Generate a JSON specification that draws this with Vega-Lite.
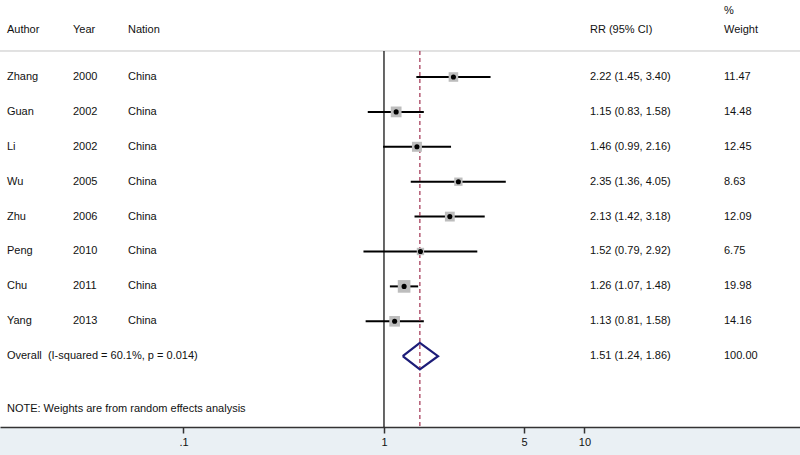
{
  "$schema": "https://vega.github.io/schema/vega-lite/v6.json",
  "width": 800,
  "height": 427,
  "autosize": "none",
  "padding": {"left": 0, "top": 0, "right": 0, "bottom": 28},
  "background": "#eaf0f4",
  "config": {
    "view": {"fill": "white", "stroke": null},
    "text": {"font": "Liberation Sans", "fontSize": 11, "color": "#111111", "align": "left", "baseline": "middle"},
    "axisX": {"grid": false, "domainColor": "#333333", "domainWidth": 1.5, "tickColor": "#333333", "tickSize": 6, "tickWidth": 1.5,
      "labelFont": "Liberation Sans", "labelFontSize": 11, "labelColor": "#111111", "labelPadding": 3, "labelFlush": false, "labelOverlap": false}
  },
  "datasets": {
    "studies": [
      {"author": "Zhang", "year": "2000", "nation": "China", "row": 0, "rr": 2.22, "lo": 1.45, "hi": 3.40, "weight": 11.47, "ci": "2.22 (1.45, 3.40)", "w": "11.47"},
      {"author": "Guan", "year": "2002", "nation": "China", "row": 1, "rr": 1.15, "lo": 0.83, "hi": 1.58, "weight": 14.48, "ci": "1.15 (0.83, 1.58)", "w": "14.48"},
      {"author": "Li", "year": "2002", "nation": "China", "row": 2, "rr": 1.46, "lo": 0.99, "hi": 2.16, "weight": 12.45, "ci": "1.46 (0.99, 2.16)", "w": "12.45"},
      {"author": "Wu", "year": "2005", "nation": "China", "row": 3, "rr": 2.35, "lo": 1.36, "hi": 4.05, "weight": 8.63, "ci": "2.35 (1.36, 4.05)", "w": "8.63"},
      {"author": "Zhu", "year": "2006", "nation": "China", "row": 4, "rr": 2.13, "lo": 1.42, "hi": 3.18, "weight": 12.09, "ci": "2.13 (1.42, 3.18)", "w": "12.09"},
      {"author": "Peng", "year": "2010", "nation": "China", "row": 5, "rr": 1.52, "lo": 0.79, "hi": 2.92, "weight": 6.75, "ci": "1.52 (0.79, 2.92)", "w": "6.75"},
      {"author": "Chu", "year": "2011", "nation": "China", "row": 6, "rr": 1.26, "lo": 1.07, "hi": 1.48, "weight": 19.98, "ci": "1.26 (1.07, 1.48)", "w": "19.98"},
      {"author": "Yang", "year": "2013", "nation": "China", "row": 7, "rr": 1.13, "lo": 0.81, "hi": 1.58, "weight": 14.16, "ci": "1.13 (0.81, 1.58)", "w": "14.16"}
    ],
    "diamond": [
      {"order": 0, "x": 1.24, "y": 8},
      {"order": 1, "x": 1.51, "y": 7.62},
      {"order": 2, "x": 1.86, "y": 8},
      {"order": 3, "x": 1.51, "y": 8.38},
      {"order": 4, "x": 1.24, "y": 8}
    ],
    "overall": [
      {"row": 8, "label": "Overall\u00a0 (I-squared = 60.1%, p = 0.014)", "ci": "1.51 (1.24, 1.86)", "w": "100.00"}
    ]
  },
  "layer": [
    {
      "data": {"values": [{}]},
      "mark": {"type": "rule", "color": "#c4c4c4", "strokeWidth": 1},
      "encoding": {
        "y": {"datum": -0.745, "type": "quantitative", "scale": {"domain": [-2.2063, 10.029], "reverse": true, "nice": false, "zero": false}, "axis": null}
      }
    },
    {
      "data": {"name": "studies"},
      "mark": {"type": "rule", "color": "#000000", "strokeWidth": 2},
      "encoding": {
        "x": {"field": "lo", "type": "quantitative", "scale": {"type": "log", "domain": [0.01216, 118.8], "nice": false},
          "axis": {"values": [0.1, 1, 5, 10], "labelExpr": "datum.value < 1 ? '.1' : format(datum.value, 'd')", "title": null}},
        "x2": {"field": "hi"},
        "y": {"field": "row", "type": "quantitative", "axis": null}
      }
    },
    {
      "data": {"values": [{}]},
      "mark": {"type": "rule", "color": "#000000", "strokeWidth": 1.2},
      "encoding": {
        "x": {"datum": 1, "type": "quantitative", "axis": {"values": [0.1, 1, 5, 10], "labelExpr": "datum.value < 1 ? '.1' : format(datum.value, 'd')", "title": null}},
        "y": {"datum": -0.745, "type": "quantitative", "axis": null},
        "y2": {"datum": 10.029}
      }
    },
    {
      "data": {"values": [{}]},
      "mark": {"type": "rule", "color": "#a03050", "strokeWidth": 1.2, "strokeDash": [4, 3]},
      "encoding": {
        "x": {"datum": 1.51, "type": "quantitative", "axis": {"values": [0.1, 1, 5, 10], "labelExpr": "datum.value < 1 ? '.1' : format(datum.value, 'd')", "title": null}},
        "y": {"datum": -0.745, "type": "quantitative", "axis": null},
        "y2": {"datum": 10.029}
      }
    },
    {
      "data": {"name": "studies"},
      "mark": {"type": "square", "color": "#bdbdbd", "opacity": 1, "filled": true},
      "encoding": {
        "x": {"field": "rr", "type": "quantitative", "axis": {"values": [0.1, 1, 5, 10], "labelExpr": "datum.value < 1 ? '.1' : format(datum.value, 'd')", "title": null}},
        "y": {"field": "row", "type": "quantitative", "axis": null},
        "size": {"field": "weight", "type": "quantitative", "scale": {"domain": [0, 20], "range": [0, 160]}, "legend": null}
      }
    },
    {
      "data": {"name": "studies"},
      "mark": {"type": "circle", "color": "#000000", "size": 26, "opacity": 1},
      "encoding": {
        "x": {"field": "rr", "type": "quantitative", "axis": {"values": [0.1, 1, 5, 10], "labelExpr": "datum.value < 1 ? '.1' : format(datum.value, 'd')", "title": null}},
        "y": {"field": "row", "type": "quantitative", "axis": null}
      }
    },
    {
      "data": {"name": "diamond"},
      "mark": {"type": "line", "color": "#1c1c78", "strokeWidth": 2.2},
      "encoding": {
        "x": {"field": "x", "type": "quantitative", "axis": {"values": [0.1, 1, 5, 10], "labelExpr": "datum.value < 1 ? '.1' : format(datum.value, 'd')", "title": null}},
        "y": {"field": "y", "type": "quantitative", "axis": null},
        "order": {"field": "order"}
      }
    },
    {
      "data": {"name": "studies"},
      "mark": {"type": "text"},
      "encoding": {"x": {"datum": 0.01317, "type": "quantitative", "axis": {"values": [0.1, 1, 5, 10], "labelExpr": "datum.value < 1 ? '.1' : format(datum.value, 'd')", "title": null}}, "y": {"field": "row", "type": "quantitative", "axis": null}, "text": {"field": "author"}}
    },
    {
      "data": {"name": "studies"},
      "mark": {"type": "text"},
      "encoding": {"x": {"datum": 0.02811, "type": "quantitative", "axis": {"values": [0.1, 1, 5, 10], "labelExpr": "datum.value < 1 ? '.1' : format(datum.value, 'd')", "title": null}}, "y": {"field": "row", "type": "quantitative", "axis": null}, "text": {"field": "year"}}
    },
    {
      "data": {"name": "studies"},
      "mark": {"type": "text"},
      "encoding": {"x": {"datum": 0.05286, "type": "quantitative", "axis": {"values": [0.1, 1, 5, 10], "labelExpr": "datum.value < 1 ? '.1' : format(datum.value, 'd')", "title": null}}, "y": {"field": "row", "type": "quantitative", "axis": null}, "text": {"field": "nation"}}
    },
    {
      "data": {"name": "studies"},
      "mark": {"type": "text"},
      "encoding": {"x": {"datum": 10.652, "type": "quantitative", "axis": {"values": [0.1, 1, 5, 10], "labelExpr": "datum.value < 1 ? '.1' : format(datum.value, 'd')", "title": null}}, "y": {"field": "row", "type": "quantitative", "axis": null}, "text": {"field": "ci"}}
    },
    {
      "data": {"name": "studies"},
      "mark": {"type": "text"},
      "encoding": {"x": {"datum": 49.63, "type": "quantitative", "axis": {"values": [0.1, 1, 5, 10], "labelExpr": "datum.value < 1 ? '.1' : format(datum.value, 'd')", "title": null}}, "y": {"field": "row", "type": "quantitative", "axis": null}, "text": {"field": "w"}}
    },
    {
      "data": {"name": "overall"},
      "mark": {"type": "text"},
      "encoding": {"x": {"datum": 0.01317, "type": "quantitative", "axis": {"values": [0.1, 1, 5, 10], "labelExpr": "datum.value < 1 ? '.1' : format(datum.value, 'd')", "title": null}}, "y": {"field": "row", "type": "quantitative", "axis": null}, "text": {"field": "label"}}
    },
    {
      "data": {"name": "overall"},
      "mark": {"type": "text"},
      "encoding": {"x": {"datum": 10.652, "type": "quantitative", "axis": {"values": [0.1, 1, 5, 10], "labelExpr": "datum.value < 1 ? '.1' : format(datum.value, 'd')", "title": null}}, "y": {"field": "row", "type": "quantitative", "axis": null}, "text": {"field": "ci"}}
    },
    {
      "data": {"name": "overall"},
      "mark": {"type": "text"},
      "encoding": {"x": {"datum": 49.63, "type": "quantitative", "axis": {"values": [0.1, 1, 5, 10], "labelExpr": "datum.value < 1 ? '.1' : format(datum.value, 'd')", "title": null}}, "y": {"field": "row", "type": "quantitative", "axis": null}, "text": {"field": "w"}}
    },
    {
      "data": {"values": [{}]},
      "mark": {"type": "text", "text": "Author"},
      "encoding": {"x": {"datum": 0.01317, "type": "quantitative", "axis": {"values": [0.1, 1, 5, 10], "labelExpr": "datum.value < 1 ? '.1' : format(datum.value, 'd')", "title": null}}, "y": {"datum": -1.3467, "type": "quantitative", "axis": null}}
    },
    {
      "data": {"values": [{}]},
      "mark": {"type": "text", "text": "Year"},
      "encoding": {"x": {"datum": 0.02811, "type": "quantitative", "axis": {"values": [0.1, 1, 5, 10], "labelExpr": "datum.value < 1 ? '.1' : format(datum.value, 'd')", "title": null}}, "y": {"datum": -1.3467, "type": "quantitative", "axis": null}}
    },
    {
      "data": {"values": [{}]},
      "mark": {"type": "text", "text": "Nation"},
      "encoding": {"x": {"datum": 0.05286, "type": "quantitative", "axis": {"values": [0.1, 1, 5, 10], "labelExpr": "datum.value < 1 ? '.1' : format(datum.value, 'd')", "title": null}}, "y": {"datum": -1.3467, "type": "quantitative", "axis": null}}
    },
    {
      "data": {"values": [{}]},
      "mark": {"type": "text", "text": "RR (95% CI)"},
      "encoding": {"x": {"datum": 10.652, "type": "quantitative", "axis": {"values": [0.1, 1, 5, 10], "labelExpr": "datum.value < 1 ? '.1' : format(datum.value, 'd')", "title": null}}, "y": {"datum": -1.3467, "type": "quantitative", "axis": null}}
    },
    {
      "data": {"values": [{}]},
      "mark": {"type": "text", "text": "Weight"},
      "encoding": {"x": {"datum": 49.63, "type": "quantitative", "axis": {"values": [0.1, 1, 5, 10], "labelExpr": "datum.value < 1 ? '.1' : format(datum.value, 'd')", "title": null}}, "y": {"datum": -1.3467, "type": "quantitative", "axis": null}}
    },
    {
      "data": {"values": [{}]},
      "mark": {"type": "text", "text": "%"},
      "encoding": {"x": {"datum": 49.63, "type": "quantitative", "axis": {"values": [0.1, 1, 5, 10], "labelExpr": "datum.value < 1 ? '.1' : format(datum.value, 'd')", "title": null}}, "y": {"datum": -1.89, "type": "quantitative", "axis": null}}
    },
    {
      "data": {"values": [{}]},
      "mark": {"type": "text", "text": "NOTE: Weights are from random effects analysis"},
      "encoding": {"x": {"datum": 0.01317, "type": "quantitative", "axis": {"values": [0.1, 1, 5, 10], "labelExpr": "datum.value < 1 ? '.1' : format(datum.value, 'd')", "title": null}}, "y": {"datum": 9.513, "type": "quantitative", "axis": null}}
    }
  ]
}
